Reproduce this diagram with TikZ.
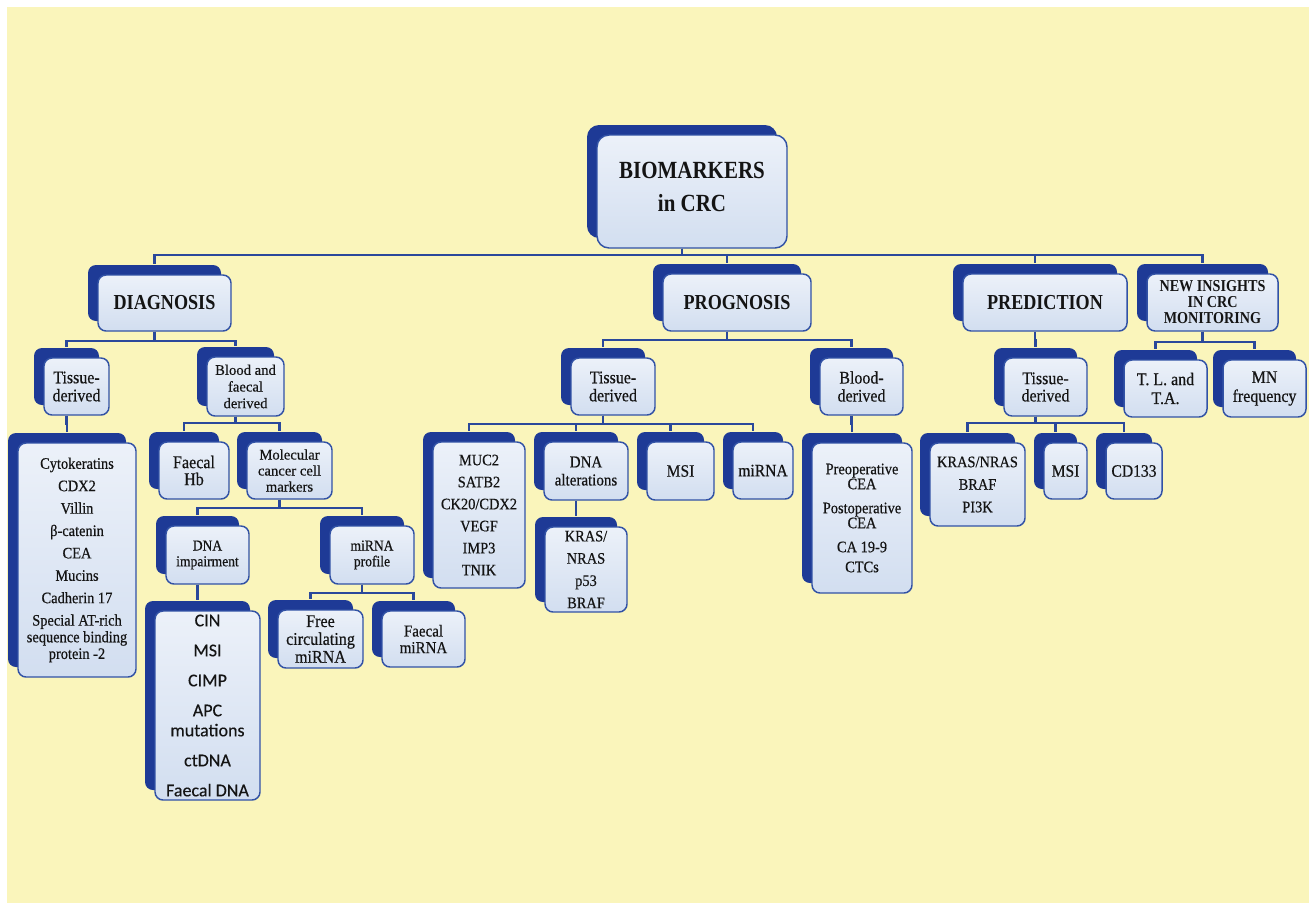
\documentclass[tikz,border=0pt]{standalone}
\usepackage{fontspec}
\setmainfont{Liberation Serif}[FakeBold=0.4]
\newfontfamily\nsA[FakeStretch=0.9,FakeBold=0.5]{Liberation Serif}
\newfontfamily\nsB[FakeStretch=0.85]{Liberation Serif}
\newfontfamily\calib[FakeBold=0.3]{Carlito}
\definecolor{bgyellow}{RGB}{250,245,187}
\definecolor{backblue}{RGB}{30,58,150}
\definecolor{edgeblue}{RGB}{50,82,165}
\definecolor{lineblue}{RGB}{42,72,155}
\definecolor{fronttop}{RGB}{236,241,249}
\definecolor{frontbot}{RGB}{210,222,240}
\definecolor{txt}{RGB}{20,20,20}
\newcommand\rf[2]{\nsA\fontsize{#1}{#2}\selectfont}
\newcommand\tf[2]{\nsB\bfseries\fontsize{#1}{#2}\selectfont}
\tikzset{
  box/.style={draw=edgeblue, line width=1.1pt, rounded corners=6pt,
    top color=fronttop, bottom color=frontbot, inner sep=0pt, align=center, text=txt,
    preaction={fill=backblue, transform canvas={xshift=-7.5pt,yshift=7.5pt}}},
  conn/.style={draw=lineblue, line width=1.7pt},
}
\newcommand\bx[7][]{%
  \node[box,#1,minimum width={(#5-#3)*0.75pt},minimum height={(#6-#4)*0.75pt}] (#2) at ({(#3+#5)/2},{(#4+#6)/2}) {#7};
  \coordinate (#2-b) at ([xshift=-7.5pt]#2.south);
  \coordinate (#2-t) at ([xshift=-7.5pt,yshift=7.5pt]#2.north);}
\newcommand\lnk[3]{\draw[conn] (#1-b) -- (#1-b |- 0,#3) -| (#2-t);}
\begin{document}
\begin{tikzpicture}[x=0.75pt,y=-0.75pt]
\fill[white] (0,0) rectangle (1309,903);
\fill[bgyellow] (7,7) rectangle (1309,903);
\useasboundingbox (0,0) rectangle (1309,903);

% level 0
\bx[rounded corners=9pt,text depth=7.5pt,font=\tf{18.5}{24.75}]{root}{597}{135}{787}{248}{BIOMARKERS\\in CRC}
% level 1
\bx[font=\tf{16}{18}]{diag}{98}{275}{231}{331}{DIAGNOSIS}
\bx[font=\tf{16}{18}]{prog}{663}{274}{811}{331}{PROGNOSIS}
\bx[font=\tf{16}{18}]{pred}{963}{274}{1127}{331}{PREDICTION}
\bx[font=\tf{12.5}{12}]{newins}{1147}{274}{1278}{331}{NEW INSIGHTS\\IN CRC\\MONITORING}
% diagnosis branch
\bx[font=\rf{13.3}{13.5}]{tis1}{44}{358}{109}{415}{Tissue-\\derived}
\bx[font=\fontsize{11}{12.5}\selectfont]{bfd}{207}{357}{284}{416}{Blood and\\faecal\\derived}
\bx[font=\rf{12}{12.5}]{list1}{18}{443}{136}{677}{Cytokeratins\\[4.3pt]CDX2\\[4.3pt]Villin\\[4.3pt]β-catenin\\[4.3pt]CEA\\[4.3pt]Mucins\\[4.3pt]Cadherin 17\\[4.3pt]Special AT-rich\\sequence binding\\protein -2}
\bx[font=\rf{13.4}{12.75}]{fhb}{159}{442}{229}{499}{Faecal\\Hb}
\bx[font=\fontsize{11}{12}\selectfont]{mol}{247}{442}{332}{499}{Molecular\\cancer cell\\markers}
\bx[font=\rf{11.3}{11.8}]{dnaimp}{166}{526}{249}{584}{DNA\\impairment}
\bx[font=\rf{11.3}{11.8}]{mirp}{330}{526}{414}{584}{miRNA\\profile}
\bx[font=\calib\fontsize{13.5}{15}\selectfont]{list2}{155}{611}{260}{800}{CIN\\[7.5pt]MSI\\[7.5pt]CIMP\\[7.5pt]APC\\mutations\\[7.5pt]ctDNA\\[7.5pt]Faecal DNA}
\bx[font=\rf{13.4}{13.4}]{freemi}{278}{610}{363}{668}{Free\\circulating\\miRNA}
\bx[font=\rf{12.5}{12.5}]{faemi}{382}{611}{465}{667}{Faecal\\miRNA}
% prognosis branch
\bx[font=\rf{13.3}{13.5}]{tis2}{571}{358}{655}{415}{Tissue-\\derived}
\bx[font=\rf{13.3}{13.5}]{blood2}{820}{358}{903}{415}{Blood-\\derived}
\bx[font=\rf{12}{16.5}]{muc}{433}{442}{525}{588}{MUC2\\SATB2\\CK20/CDX2\\VEGF\\IMP3\\TNIK}
\bx[font=\rf{12.5}{13.5}]{dnaalt}{544}{442}{628}{500}{DNA\\alterations}
\bx[font=\rf{13}{14}]{msi2}{647}{442}{714}{500}{MSI}
\bx[font=\rf{13}{14}]{mir2}{733}{442}{793}{499}{miRNA}
\bx[font=\rf{12}{16.7}]{kras2}{545}{527}{627}{612}{KRAS/\\NRAS\\p53\\BRAF}
\bx[font=\rf{12}{11.25}]{bloodlist}{812}{443}{912}{593}{Preoperative\\CEA\\[6.75pt]Postoperative\\CEA\\[6.75pt]CA 19-9\\[3.75pt]CTCs}
% prediction branch
\bx[font=\rf{13.3}{13}]{tis3}{1004}{358}{1087}{416}{Tissue-\\derived}
\bx[font=\rf{12}{16.9}]{kras3}{930}{443}{1025}{526}{KRAS/NRAS\\BRAF\\PI3K}
\bx[font=\rf{13}{14}]{msi3}{1044}{443}{1087}{499}{MSI}
\bx[font=\rf{13}{14}]{cd133}{1106}{443}{1162}{499}{CD133}
% new insights branch
\bx[font=\rf{13.3}{14.2}]{tlta}{1124}{360}{1207}{417}{T. L. and\\T.A.}
\bx[font=\rf{13.3}{14.2}]{mnf}{1223}{360}{1306}{417}{MN\\frequency}

% connectors
\lnk{root}{diag}{255}
\lnk{root}{prog}{255}
\lnk{root}{pred}{255}
\lnk{root}{newins}{255}
\lnk{diag}{tis1}{341}
\lnk{diag}{bfd}{341}
\lnk{tis1}{list1}{424}
\lnk{bfd}{fhb}{423}
\lnk{bfd}{mol}{423}
\lnk{mol}{dnaimp}{508}
\lnk{mol}{mirp}{508}
\lnk{dnaimp}{list2}{593}
\lnk{mirp}{freemi}{593}
\lnk{mirp}{faemi}{593}
\lnk{prog}{tis2}{340}
\lnk{prog}{blood2}{340}
\lnk{tis2}{muc}{424}
\lnk{tis2}{dnaalt}{424}
\lnk{tis2}{msi2}{424}
\lnk{tis2}{mir2}{424}
\lnk{dnaalt}{kras2}{508}
\lnk{blood2}{bloodlist}{424}
\lnk{pred}{tis3}{340}
\lnk{tis3}{kras3}{423}
\lnk{tis3}{msi3}{423}
\lnk{tis3}{cd133}{423}
\lnk{newins}{tlta}{342}
\lnk{newins}{mnf}{342}
\end{tikzpicture}
\end{document}
